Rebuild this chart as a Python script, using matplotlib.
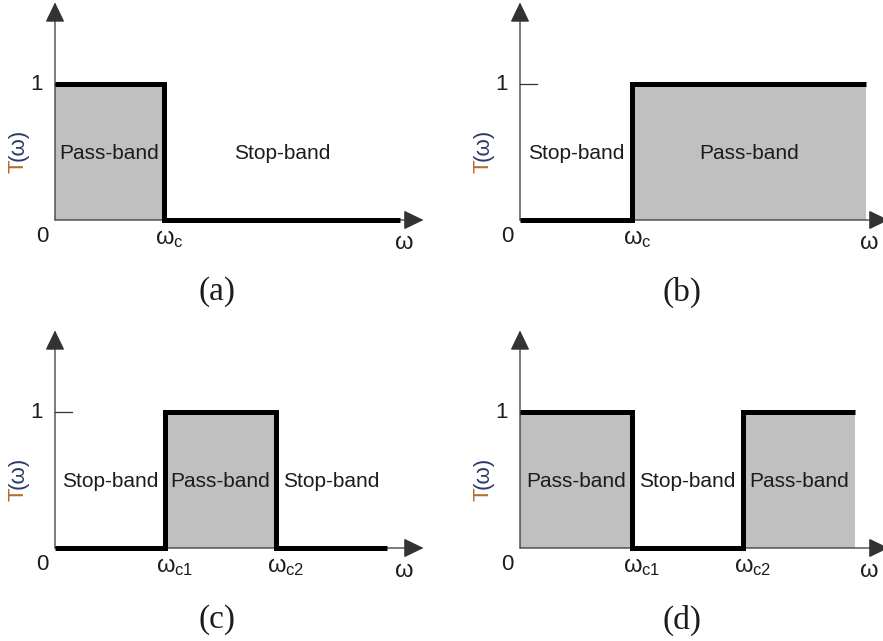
import matplotlib
matplotlib.use("Agg")
import matplotlib.pyplot as plt

plt.rcParams["font.family"] = ["Liberation Sans", "DejaVu Sans"]
plt.rcParams["mathtext.fontset"] = "custom"
plt.rcParams["mathtext.rm"] = "Liberation Sans"
plt.rcParams["mathtext.it"] = "Liberation Sans"
plt.rcParams["mathtext.bf"] = "Liberation Sans:bold"

# Ideal filter responses: band edges (in units of the first cutoff) and T(w) per band
panel_tags = ["(a)", "(b)", "(c)", "(d)"]
band_edges = [
    [0.0, 0.98, 3.11],
    [0.0, 1.01, 3.12],
    [0.0, 0.99, 1.99, 2.99],
    [0.0, 1.01, 2.01, 3.02],
]
band_levels = [
    [1, 0],
    [0, 1],
    [0, 1, 0],
    [1, 0, 1],
]
band_names = {1: "Pass-band", 0: "Stop-band"}
cutoff_labels = [
    [r"$\omega_c$"],
    [r"$\omega_c$"],
    [r"$\omega_{c1}$", r"$\omega_{c2}$"],
    [r"$\omega_{c1}$", r"$\omega_{c2}$"],
]

W, H = 883, 641
UX, UY = 111.0, 136.0          # pixels per data unit
origins = [(55, 220), (520, 220), (55, 548), (520, 548)]

fig = plt.figure(figsize=(W / 100, H / 100), dpi=100)
fig.patch.set_facecolor("white")

TXT = "#1c1c1c"
AXC = "#333333"
FILL = "#c0c0c0"


def panel_axes(ox, oy, x_lo=-0.6, x_hi=3.6, y_lo=-0.8, y_hi=1.65):
    left = ox + x_lo * UX
    width = (x_hi - x_lo) * UX
    top = oy - y_hi * UY
    height = (y_hi - y_lo) * UY
    ax = fig.add_axes([left / W, 1 - (top + height) / H, width / W, height / H])
    ax.set_xlim(x_lo, x_hi)
    ax.set_ylim(y_lo, y_hi)
    ax.axis("off")
    ax.patch.set_visible(False)
    return ax


for tag, edges, levels, clabels, (ox, oy) in zip(
        panel_tags, band_edges, band_levels, cutoff_labels, origins):
    ax = panel_axes(ox, oy)

    # shaded pass-bands
    for i, lv in enumerate(levels):
        if lv == 1:
            ax.fill_between([edges[i], edges[i + 1]], 0, lv,
                            color=FILL, lw=0, zorder=1)

    # axes with arrow heads
    arrow = dict(arrowstyle="-|>,head_length=0.62,head_width=0.3",
                 mutation_scale=20, lw=0.9, color=AXC,
                 shrinkA=0, shrinkB=0)
    ax.annotate("", xy=(3.32, 0), xytext=(0, 0), arrowprops=arrow, zorder=2)
    ax.annotate("", xy=(0, 1.6), xytext=(0, 0), arrowprops=arrow, zorder=2)

    # tick at T = 1
    ax.plot([0, 0.15], [1, 1], color=AXC, lw=0.9, zorder=2)

    # response curve
    ax.plot(edges, levels + [levels[-1]], drawstyle="steps-post",
            color="black", lw=3.6, solid_joinstyle="miter",
            solid_capstyle="butt", zorder=3)

    # band names
    for i, lv in enumerate(levels):
        ax.text((edges[i] + edges[i + 1]) / 2, 0.49, band_names[lv],
                ha="center", va="center", fontsize=15, color=TXT, zorder=4)

    # axis annotations
    ax.text(-0.17, 1.0, "1", ha="center", va="center", fontsize=16, color=TXT)
    ax.text(-0.115, -0.12, "0", ha="center", va="center", fontsize=16, color=TXT)
    ax.text(3.14, -0.17, r"$\omega$", ha="center", va="center",
            fontsize=17, color=TXT)
    for xc, lab in zip(edges[1:-1], clabels):
        ax.text(xc - 0.08, -0.14, lab, ha="left", va="center",
                fontsize=17, color=TXT)

    # rotated axis title T(w)
    ax.text(-0.335, 0.395, "T", rotation=90, ha="center", va="center",
            fontsize=16, color="#b5692e")
    ax.text(-0.335, 0.555, "(ω)", rotation=90, ha="center", va="center",
            fontsize=16, color="#2b3a67")

    # panel tag
    ax.text(1.46, -0.53, tag, ha="center", va="center", fontsize=24,
            family=["Liberation Serif", "DejaVu Serif"], color=TXT)

fig.savefig("out.png", dpi=100, facecolor="white")
